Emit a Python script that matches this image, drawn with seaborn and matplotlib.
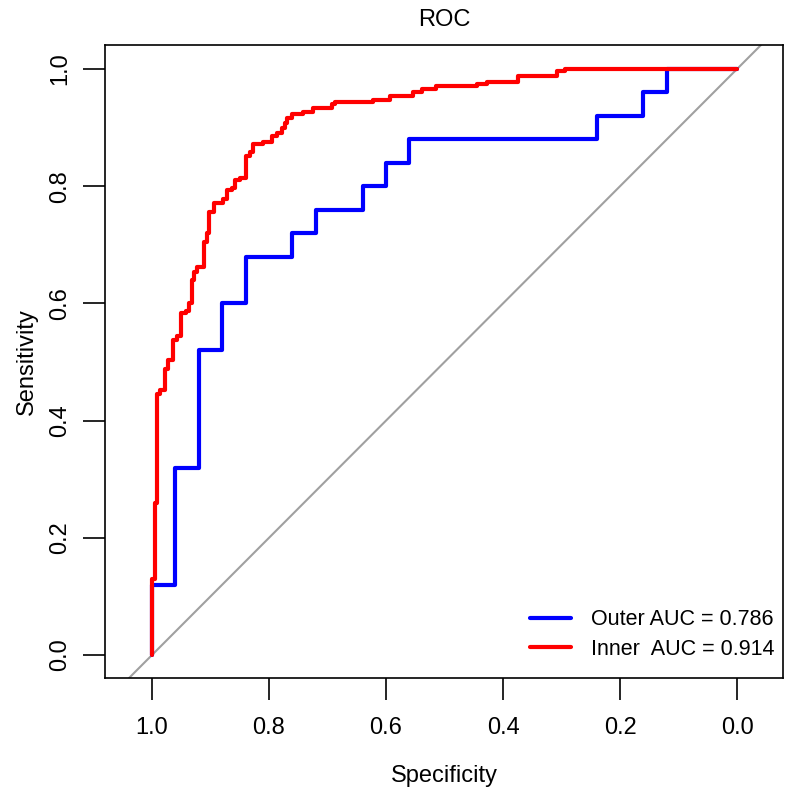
import pandas as pd
import matplotlib
matplotlib.use('Agg')
import matplotlib.pyplot as plt
import seaborn as sns

# ROC corner points (specificity, sensitivity), drawn as steps
outer_spec = [1.0, 0.96, 0.92, 0.88, 0.84, 0.76, 0.72, 0.64, 0.60, 0.56, 0.24, 0.16, 0.12, 0.0]
outer_sens = [0.0, 0.12, 0.32, 0.52, 0.60, 0.68, 0.72, 0.76, 0.80, 0.84, 0.88, 0.92, 0.96, 1.0]

inner_spec = [1.0, 0.995, 0.991, 0.986, 0.978, 0.973, 0.964, 0.957, 0.95, 0.942,
              0.937, 0.932, 0.928, 0.923, 0.911, 0.906, 0.902, 0.894, 0.879, 0.872,
              0.863, 0.858, 0.85, 0.84, 0.833, 0.827, 0.81, 0.795, 0.786, 0.778,
              0.773, 0.769, 0.761, 0.742, 0.725, 0.692, 0.687, 0.622, 0.593, 0.554,
              0.538, 0.515, 0.444, 0.427, 0.374, 0.308, 0.294, 0.0]
inner_sens = [0.0, 0.13, 0.26, 0.445, 0.452, 0.488, 0.503, 0.537, 0.544, 0.583,
              0.587, 0.60, 0.64, 0.654, 0.662, 0.705, 0.72, 0.756, 0.771, 0.778,
              0.793, 0.797, 0.81, 0.814, 0.852, 0.858, 0.872, 0.875, 0.886, 0.89,
              0.90, 0.908, 0.916, 0.923, 0.927, 0.933, 0.94, 0.944, 0.947, 0.954,
              0.961, 0.966, 0.971, 0.974, 0.978, 0.988, 0.997, 1.0]

labels = ['Outer AUC = 0.786', 'Inner  AUC = 0.914']
colors = {labels[0]: '#0000FF', labels[1]: '#FF0000'}
ticks = [1.0, 0.8, 0.6, 0.4, 0.2, 0.0]

df = pd.concat([
    pd.DataFrame({'Specificity': outer_spec, 'Sensitivity': outer_sens, 'model': labels[0]}),
    pd.DataFrame({'Specificity': inner_spec, 'Sensitivity': inner_sens, 'model': labels[1]}),
], ignore_index=True)

sns.set_theme(style='white')
plt.rcParams['font.family'] = ['Liberation Sans', 'DejaVu Sans']
plt.rcParams['text.color'] = 'black'
plt.rcParams['axes.labelcolor'] = 'black'
plt.rcParams['xtick.color'] = 'black'
plt.rcParams['ytick.color'] = 'black'

fig = plt.figure(figsize=(7.86, 7.9), dpi=100)
ax = fig.add_axes([105 / 786, 1 - 678 / 790, 678 / 786, 633 / 790])

# chance diagonal
ax.axline((1, 0), (0, 1), color='#A0A0A0', lw=1.5, zorder=1)

sns.lineplot(data=df, x='Specificity', y='Sensitivity', hue='model', hue_order=labels,
             palette=colors, sort=False, estimator=None, drawstyle='steps-pre',
             lw=3, ax=ax, zorder=2)

ax.set_xlim(1.0803, -0.0786)
ax.set_ylim(-0.0392, 1.041)
ax.set_xticks(ticks)
ax.set_xticklabels([f'{t:.1f}' for t in ticks])
ax.set_yticks(ticks)
ax.set_yticklabels([f'{t:.1f}' for t in ticks])
ax.tick_params(axis='both', direction='out', length=16, width=1.2, color='black',
               labelsize=17, bottom=True, left=True)
ax.tick_params(axis='x', pad=12)
ax.tick_params(axis='y', pad=8.5)
for lab in ax.get_yticklabels():
    lab.set_rotation(90)
    lab.set_va('center')

for sp in ax.spines.values():
    sp.set_color('black')
    sp.set_linewidth(1.2)

ax.set_xlabel('Specificity', fontsize=17, labelpad=19)
ax.set_ylabel('Sensitivity', fontsize=17, labelpad=8)
ax.set_title('ROC', fontsize=17, pad=14)

leg = ax.legend(loc='lower right', bbox_to_anchor=(1.015, 0), frameon=False,
                fontsize=15.5, handlelength=1.9, handletextpad=0.95,
                labelspacing=0.4, borderaxespad=0.45)
for h in leg.get_lines():
    h.set_linewidth(3)

plt.savefig('out.png', dpi=100)
plt.close()
